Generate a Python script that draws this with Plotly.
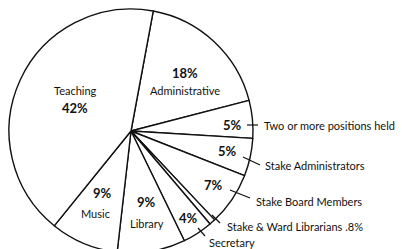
import plotly.graph_objects as go

# ---- data ----
categories = ["Administrative", "Two or more positions held", "Stake Administrators",
              "Stake Board Members", "Stake & Ward Librarians", "Secretary",
              "Library", "Music", "Teaching"]
values = [18, 5, 5, 7, 0.8, 4, 9, 9, 42]
pct_labels = ["18%", "5%", "5%", "7%", ".8%", "4%", "9%", "9%", "42%"]

W, H = 402, 260
CX, CY, R = 131, 131, 122


def px(x):
    return x / W


def py(y):
    return 1 - y / H


fig = go.Figure(go.Pie(
    labels=categories, values=values, sort=False, direction="clockwise",
    rotation=10.5, textinfo="none", hoverinfo="label+percent",
    marker=dict(colors=["white"] * len(values), line=dict(color="#111", width=1.4)),
    domain=dict(x=[px(CX - R), px(CX + R)], y=[py(CY + R), py(CY - R)]),
    showlegend=False,
))

FONT = "Lato"
word_font = dict(family=FONT, size=11, color="#111")
pct_font = dict(family=FONT, size=13, color="#111", weight="bold")

annotations = []


def txt(x, y, s, font, xanchor="center"):
    annotations.append(dict(x=px(x), y=py(y), xref="paper", yref="paper", text=s,
                            showarrow=False, font=font, xanchor=xanchor, yanchor="middle"))


# inside labels
txt(75, 90, categories[8], word_font)
txt(75, 108, pct_labels[8], pct_font)
txt(185, 73, pct_labels[0], pct_font)
txt(185, 90, categories[0], word_font)
txt(232, 125, pct_labels[1], pct_font)
txt(227, 151, pct_labels[2], pct_font)
txt(213, 185, pct_labels[3], pct_font)
txt(188, 218, pct_labels[5], pct_font)
txt(102, 193, pct_labels[7], pct_font)
txt(95, 213, categories[7], word_font)
txt(146, 202, pct_labels[6], pct_font)
txt(147, 223, categories[6], word_font)

# outside labels
txt(262, 125, categories[1], word_font, "left")
txt(263, 165, categories[2], word_font, "left")
txt(254, 201, categories[3], word_font, "left")
txt(225, 226, categories[4] + " " + pct_labels[4], word_font, "left")
txt(207, 242, categories[5], word_font, "left")

shapes = []


def seg(x0, y0, x1, y1):
    shapes.append(dict(type="line", xref="paper", yref="paper",
                       x0=px(x0), y0=py(y0), x1=px(x1), y1=py(y1),
                       line=dict(color="#111", width=1.2)))


seg(247, 125, 258, 125)
seg(243, 157, 260, 165)
seg(230, 190, 250, 198)
seg(212, 215, 220, 223)
seg(198, 228, 205, 236)

fig.update_layout(width=W, height=H, margin=dict(l=0, r=0, t=0, b=0),
                  paper_bgcolor="white", plot_bgcolor="white",
                  annotations=annotations, shapes=shapes)

fig.write_html("out.html", config={"displayModeBar": False}, post_script=(
    "document.body.style.margin='0';document.body.style.overflow='hidden';"
    "document.documentElement.style.overflow='hidden';"))
